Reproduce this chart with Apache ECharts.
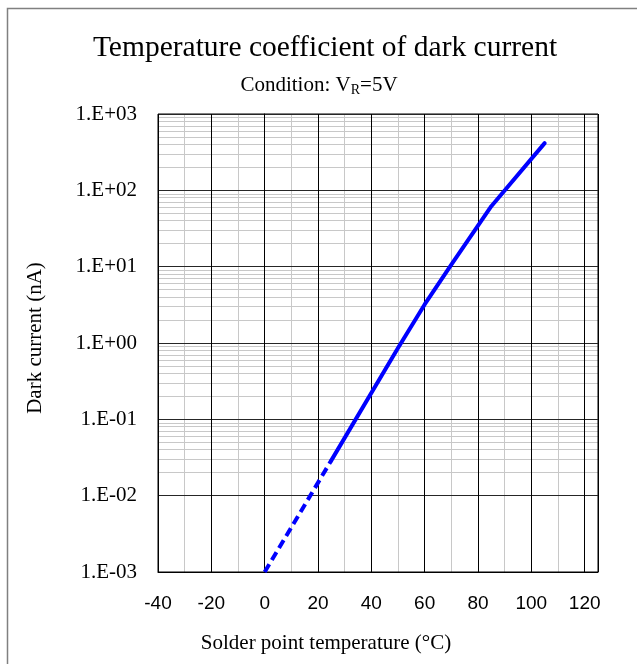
<!DOCTYPE html>
<html>
<head>
<meta charset="utf-8">
<script src="https://cdn.jsdelivr.net/npm/echarts@6/dist/echarts.min.js"></script>
<style>
  html, body { margin: 0; padding: 0; background: #fff; }
  #chart { width: 637px; height: 664px; }
</style>
</head>
<body>
<div id="chart"></div>
<script>
// measured points (temperature in °C, dark current in nA)
const tempMeasured = [25, 50, 60, 70, 85, 105];
const currentMeasured = [0.029, 0.86, 3.2, 10.6, 62, 415];
// extrapolated part, drawn dashed
const tempExtrap = [0, 25];
const currentExtrap = [0.001, 0.029];

const xTicks = [-40, -20, 0, 20, 40, 60, 80, 100, 120];

const SERIF = "'Liberation Serif','Times New Roman',serif";
const SANS = "'Liberation Sans','Noto Sans',sans-serif";

function sciLabel(v) {
  const e = Math.round(Math.log10(v));
  return '1.E' + (e < 0 ? '-' : '+') + String(Math.abs(e)).padStart(2, '0');
}

// light grey grid: every 10 °C and 2..9 inside each decade
const minorX = [];
for (let t = -30; t < 125; t += 20) minorX.push({ xAxis: t });
const minorY = [];
for (let e = -3; e < 3; e++) {
  for (let m = 2; m <= 9; m++) minorY.push({ yAxis: m * Math.pow(10, e) });
}

const chart = echarts.init(document.getElementById('chart'));
chart.setOption({
  animation: false,
  backgroundColor: '#fff',
  grid: { left: 158, right: 39, top: 114, bottom: 92, show: true, borderColor: '#000', borderWidth: 1 },
  xAxis: {
    type: 'value', min: -40, max: 125, interval: 20,
    axisLine: { show: true, lineStyle: { color: '#000', width: 1 } },
    axisTick: { show: false },
    axisLabel: {
      color: '#000', fontFamily: SANS, fontSize: 19, margin: 22,
      showMaxLabel: false,
      formatter: v => xTicks.indexOf(v) >= 0 ? String(v) : ''
    },
    splitLine: { show: true, lineStyle: { color: '#000', width: 1 } }
  },
  yAxis: {
    type: 'log', logBase: 10, min: 0.001, max: 1000,
    axisLine: { show: true, lineStyle: { color: '#000', width: 1 } },
    axisTick: { show: false },
    axisLabel: { color: '#000', fontFamily: SERIF, fontSize: 21, margin: 21, formatter: sciLabel },
    splitLine: { show: true, lineStyle: { color: '#262626', width: 1 } }
  },
  graphic: [
    { type: 'rect', silent: true, shape: { x: 7.5, y: 8.5, width: 700, height: 700 }, style: { fill: 'none', stroke: '#808080', lineWidth: 1.5 } },
    { type: 'text', silent: true, style: { x: 325, y: 48, text: 'Temperature coefficient of dark current', font: "29.5px " + SERIF, fill: '#000', textAlign: 'center', textVerticalAlign: 'middle' } },
    {
      type: 'text', silent: true,
      style: {
        x: 319, y: 85, text: '{a|Condition: V}{s|R}{a|=5V}', textAlign: 'center', textVerticalAlign: 'middle',
        rich: {
          a: { fontFamily: SERIF, fontSize: 21, fill: '#000', lineHeight: 24 },
          s: { fontFamily: SERIF, fontSize: 14, fill: '#000', lineHeight: 24, padding: [11, 0, 0, 0] }
        }
      }
    },
    { type: 'text', silent: true, rotation: Math.PI / 2, x: 35, y: 338, style: { x: 0, y: 0, text: 'Dark current (nA)', font: "21px " + SERIF, fill: '#000', textAlign: 'center', textVerticalAlign: 'middle' } },
    { type: 'text', silent: true, style: { x: 326, y: 643, text: 'Solder point temperature (°C)', font: "21px " + SERIF, fill: '#000', textAlign: 'center', textVerticalAlign: 'middle' } }
  ],
  series: [
    {
      type: 'line', data: [], silent: true,
      markLine: {
        silent: true, symbol: 'none', z: -1, animation: false,
        label: { show: false },
        lineStyle: { color: '#c8c8c8', width: 1, type: 'solid' },
        data: minorX.concat(minorY)
      }
    },
    {
      name: 'extrapolated', type: 'line', showSymbol: false, z: 3,
      data: tempExtrap.map((t, i) => [t, currentExtrap[i]]),
      lineStyle: { color: '#0000ff', width: 4, type: [9, 5], cap: 'butt' }
    },
    {
      name: 'measured', type: 'line', showSymbol: false, z: 4,
      data: tempMeasured.map((t, i) => [t, currentMeasured[i]]),
      lineStyle: { color: '#0000ff', width: 4, cap: 'round', join: 'round' }
    }
  ]
});
</script>
</body>
</html>
